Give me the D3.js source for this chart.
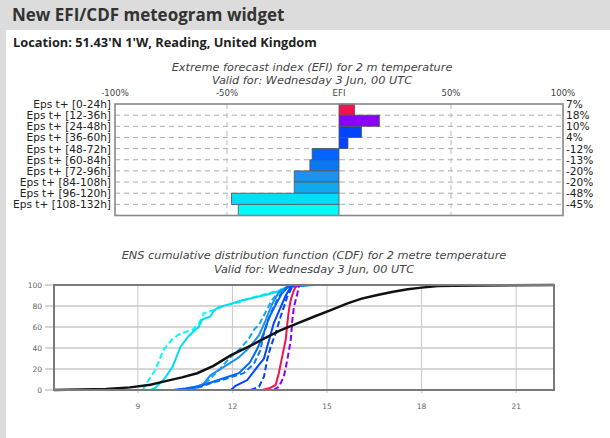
<!DOCTYPE html>
<html><head><meta charset="utf-8">
<script src="https://cdn.jsdelivr.net/npm/d3@7"></script>
<style>
html,body{margin:0;padding:0;background:#dcdcdc;}
svg{display:block;}
</style></head>
<body>
<svg id="c" width="610" height="438"></svg>
<script>
// ---------- DATA ----------
const pageTitle = "New EFI/CDF meteogram widget";
const locationText = "Location: 51.43'N 1'W, Reading, United Kingdom";
const efiTitle = ["Extreme forecast index (EFI) for 2 m temperature", "Valid for: Wednesday 3 Jun, 00 UTC"];
const cdfTitle = ["ENS cumulative distribution function (CDF) for 2 metre temperature", "Valid for: Wednesday 3 Jun, 00 UTC"];

const steps = ["Eps t+ [0-24h]","Eps t+ [12-36h]","Eps t+ [24-48h]","Eps t+ [36-60h]","Eps t+ [48-72h]",
               "Eps t+ [60-84h]","Eps t+ [72-96h]","Eps t+ [84-108h]","Eps t+ [96-120h]","Eps t+ [108-132h]"];
const efiValues = [7, 18, 10, 4, -12, -13, -20, -20, -48, -45];
const stepColors = ["#f5104f","#8a00ff","#0044ff","#0044ff","#0066ff","#0a78f5","#1e90f0","#12a8f0","#00def5","#00fbfb"];
const efiTicks = [-100, -50, 0, 50, 100];
const efiTickLabels = ["-100%","-50%","EFI","50%","100%"];

// CDF per forecast step: [temperature °C, cumulative %]
const cdf0 = [[12.95,0],[13.2,2],[13.37,4.8],[13.47,16],[13.58,32],[13.69,48],[13.74,63],[13.79,76],[13.85,86],[13.95,95],[14.04,100]];
const cdf1 = [[13.3,0],[13.47,3],[13.63,12.7],[13.74,28.6],[13.85,47.6],[13.9,66.7],[13.95,79],[14.06,92],[14.12,100]];
const cdf2 = [[11.95,0],[12.1,4],[12.47,9.5],[12.79,22],[13.0,30],[13.1,41],[13.31,63.5],[13.53,79],[13.69,90],[13.85,98],[13.92,100]];
const cdf3 = [[12.57,0],[12.84,3],[13.0,12.7],[13.1,28.6],[13.21,41],[13.37,54],[13.53,70],[13.63,79],[13.74,89],[13.9,98.4],[13.95,100]];
const cdf4 = [[10.1,0],[10.5,1.5],[11.0,4],[11.6,10],[12.2,16],[12.55,26],[12.8,40],[13.0,55],[13.15,68],[13.35,80],[13.55,91],[13.75,98],[14.3,100]];
const cdf5 = [[10.6,0],[11.0,3],[11.3,6.3],[11.83,11],[12.36,16],[12.68,25],[12.89,38],[12.98,52],[13.1,63.5],[13.26,76],[13.47,89],[13.69,97],[13.9,100]];
const cdf6 = [[10.2,0],[10.77,1],[11.09,6],[11.3,14],[11.83,24],[12.2,31],[12.52,40],[12.84,52],[13.05,66],[13.26,82],[13.45,92],[13.7,98],[14.6,100]];
const cdf7 = [[10.3,0],[10.8,2],[11.2,8],[11.6,20],[11.9,30],[12.2,38],[12.5,48],[12.7,58],[12.84,62],[13.05,74],[13.26,86],[13.58,97],[14.4,100]];
const cdf8 = [[9.4,0],[9.55,2],[9.81,9.5],[10.1,22],[10.35,41],[10.6,51],[10.77,56],[10.93,60],[11.04,67],[11.3,70],[11.4,75],[11.56,79],[11.94,82],[12.25,85],[12.7,88],[13.05,90.5],[13.58,95],[13.9,100]];
const cdf9 = [[9.15,0],[9.34,9.5],[9.55,19],[9.81,38],[10.08,48],[10.35,54],[10.72,57],[10.93,63],[11.09,73],[11.4,76],[11.72,80],[12.25,84],[12.5,87],[13.0,91],[13.5,95],[13.85,100]];
const cdfSeries = [cdf0,cdf1,cdf2,cdf3,cdf4,cdf5,cdf6,cdf7,cdf8,cdf9];
const cdfDashed = [false,true,false,true,false,true,false,true,false,true];
// model climate CDF
const climate = [[6.34,0],[8.0,1],[8.75,2.5],[9.4,5],[9.81,8],[10.4,12],[10.88,16],[11.4,23],[11.94,33],[12.5,41],[13.0,49],[13.5,56.5],[14.06,63.5],[14.6,70],[15.12,76],[15.65,82.5],[16.1,87],[16.6,90.5],[17.1,93.5],[17.56,95.9],[18.0,97.5],[18.51,99],[19.0,99.4],[22.2,100]];
const cdfXDomain = [6.34, 22.2];
const cdfXTicks = [9, 12, 15, 18, 21];
const cdfYTicks = [0, 20, 40, 60, 80, 100];

// ---------- DRAW ----------
const svg = d3.select("#c");
// page chrome
svg.append("rect").attr("x",0).attr("y",0).attr("width",610).attr("height",438).attr("fill","#dcdcdc");
svg.append("rect").attr("x",6).attr("y",30).attr("width",604).attr("height",408).attr("fill","#ffffff");
svg.append("text").attr("x",12).attr("y",21).text(pageTitle)
  .attr("font-family","Open Sans").attr("font-weight","bold").attr("font-size",17).attr("fill","#333");
svg.append("text").attr("x",13).attr("y",47).text(locationText)
  .attr("font-family","Open Sans").attr("font-weight","bold").attr("font-size",12.8).attr("fill","#222");

// EFI chart titles
const tfont = "DejaVu Sans";
efiTitle.forEach((t,i)=>svg.append("text").attr("x",312).attr("y",71+i*13).attr("text-anchor","middle")
  .attr("font-family",tfont).attr("font-style","italic").attr("font-size",11.3).attr("fill","#444").text(t));

// EFI chart
const efi = {l:115, r:563, t:104, b:215.5};
const ex = d3.scaleLinear().domain([-100,100]).range([efi.l, efi.r]);
const ey = d3.scaleBand().domain(steps).range([efi.t, efi.b]).padding(0);
const g1 = svg.append("g");
// dashed gridlines
g1.selectAll("line.h").data(steps.slice(1)).join("line")
  .attr("x1",efi.l).attr("x2",efi.r).attr("y1",d=>ey(d)).attr("y2",d=>ey(d))
  .attr("stroke","#aaa").attr("stroke-dasharray","5,4");
g1.selectAll("line.v").data([-50,50]).join("line")
  .attr("x1",d=>ex(d)).attr("x2",d=>ex(d)).attr("y1",efi.t).attr("y2",efi.b)
  .attr("stroke","#bbb").attr("stroke-dasharray","5,4");
// bars
g1.selectAll("rect.bar").data(efiValues).join("rect")
  .attr("x",d=>ex(Math.min(0,d))).attr("width",d=>Math.abs(ex(d)-ex(0)))
  .attr("y",(d,i)=>ey(steps[i])).attr("height",ey.bandwidth())
  .attr("fill",(d,i)=>stepColors[i]).attr("stroke","#555").attr("stroke-width",0.8);
// frame
g1.append("rect").attr("x",efi.l).attr("y",efi.t).attr("width",efi.r-efi.l).attr("height",efi.b-efi.t)
  .attr("fill","none").attr("stroke","#888").attr("stroke-width",1.6);
// top axis
const lfont = "DejaVu Sans";
g1.selectAll("text.top").data(efiTicks).join("text")
  .attr("x",d=>ex(d)).attr("y",96).attr("text-anchor","middle")
  .attr("font-family","DejaVu Sans Condensed, DejaVu Sans").attr("font-size",9.5).attr("fill","#444").text((d,i)=>efiTickLabels[i]);
// left labels
g1.selectAll("text.left").data(steps).join("text")
  .attr("x",efi.l-4).attr("y",d=>ey(d)+4).attr("text-anchor","end")
  .attr("font-family",lfont).attr("font-size",10.6).attr("fill","#222").text(d=>d);
// right labels
g1.selectAll("text.right").data(efiValues).join("text")
  .attr("x",efi.r+3).attr("y",(d,i)=>ey(steps[i])+4)
  .attr("font-family",lfont).attr("font-size",10.6).attr("fill","#222").text(d=>d+"%");

// CDF chart titles
cdfTitle.forEach((t,i)=>svg.append("text").attr("x",314).attr("y",259+i*13.5).attr("text-anchor","middle")
  .attr("font-family",tfont).attr("font-style","italic").attr("font-size",11.3).attr("fill","#444").text(t));

const cdf = {l:54, r:554, t:285, b:390};
const cx = d3.scaleLinear().domain(cdfXDomain).range([cdf.l, cdf.r]);
const cy = d3.scaleLinear().domain([0,100]).range([cdf.b, cdf.t]);
const g2 = svg.append("g");
g2.selectAll("line.gy").data(cdfYTicks).join("line")
  .attr("x1",cdf.l-9).attr("x2",cdf.r).attr("y1",d=>cy(d)).attr("y2",d=>cy(d))
  .attr("stroke","#d6d6d6").attr("stroke-width",2);
g2.selectAll("line.gx").data(cdfXTicks).join("line")
  .attr("x1",d=>cx(d)).attr("x2",d=>cx(d)).attr("y1",cdf.t).attr("y2",cdf.b+3)
  .attr("stroke","#c8c8c8").attr("stroke-width",1);
g2.selectAll("text.yl").data(cdfYTicks).join("text")
  .attr("x",cdf.l-12).attr("y",d=>cy(d)+3).attr("text-anchor","end")
  .attr("font-family","DejaVu Sans").attr("font-size",7.5).attr("fill","#666").text(d=>d);
g2.selectAll("text.xl").data(cdfXTicks).join("text")
  .attr("x",d=>cx(d)).attr("y",409).attr("text-anchor","middle")
  .attr("font-family","DejaVu Sans").attr("font-size",7.5).attr("fill","#666").text(d=>d);

const line = d3.line().x(d=>cx(d[0])).y(d=>cy(d[1]));
const order = [9,8,7,6,5,4,3,2,1,0];
order.forEach(i=>{
  g2.append("path").attr("d",line(cdfSeries[i])).attr("fill","none")
    .attr("stroke",stepColors[i]).attr("stroke-width",2)
    .attr("stroke-dasharray",cdfDashed[i]?"6,3":null);
});
g2.append("path").attr("d",line(climate)).attr("fill","none").attr("stroke","#111").attr("stroke-width",2.5);
// frame
g2.append("rect").attr("x",cdf.l).attr("y",cdf.t).attr("width",cdf.r-cdf.l).attr("height",cdf.b-cdf.t)
  .attr("fill","none").attr("stroke","#7a7a7a").attr("stroke-width",2);
</script>
</body></html>
